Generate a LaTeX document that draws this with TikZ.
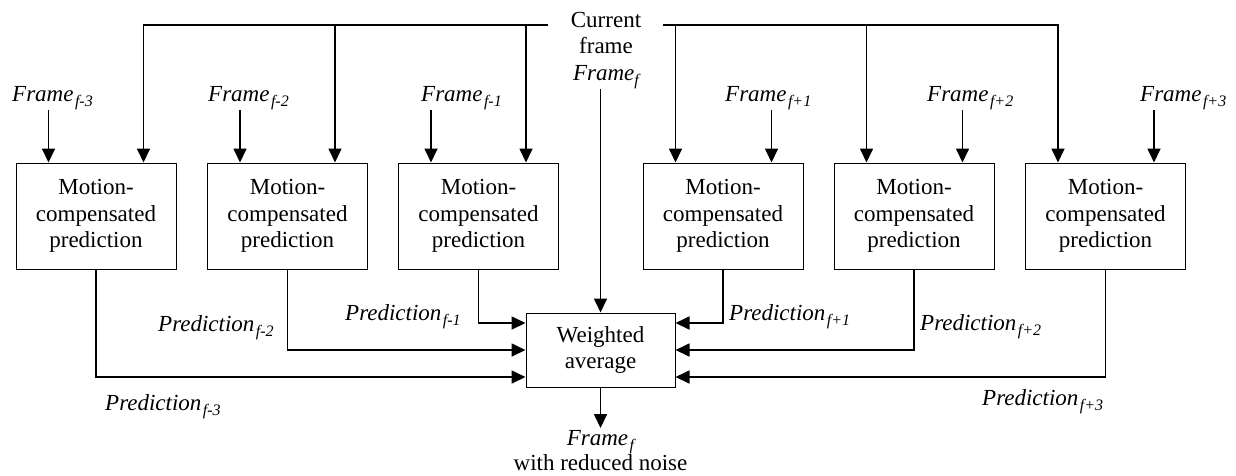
\documentclass[tikz,border=0pt]{standalone}
\usepackage{fontspec}
\setmainfont{Liberation Serif}
\usetikzlibrary{arrows.meta}
\newcommand{\sbs}[1]{\raisebox{-5pt}{\fontsize{16}{16}\selectfont\itshape #1}}
\begin{document}
\begin{tikzpicture}[x=1pt,y=-1pt,
  arr/.style={line width=1.7pt,-{Triangle[length=14pt,width=13pt]}},
  txt/.style={font=\fontsize{23}{26.5}\selectfont},
  mcp/.style={txt,draw,line width=1pt,minimum width=160pt,minimum height=106pt,align=center,inner sep=0pt},
  lab/.style={font=\fontsize{23}{26.5}\selectfont\itshape,inner sep=0pt,anchor=base west}]
\useasboundingbox (0,0) rectangle (1236,475);
% boxes
\node[mcp] (b1) at (96,216) {Motion-\\compensated\\prediction};
\node[mcp] (b2) at (287.5,216) {Motion-\\compensated\\prediction};
\node[mcp] (b3) at (478.5,216) {Motion-\\compensated\\prediction};
\node[mcp] (b4) at (723,216) {Motion-\\compensated\\prediction};
\node[mcp] (b5) at (914,216) {Motion-\\compensated\\prediction};
\node[mcp] (b6) at (1105.5,216) {Motion-\\compensated\\prediction};
\node[txt,draw,line width=1pt,minimum width=149pt,minimum height=74pt,align=center,inner sep=0pt] (wa) at (600.5,350) {Weighted\\average};
% current frame
\node[txt,align=center,inner sep=0pt,anchor=north] (cur) at (606,12) {Current\\frame\\\textit{Frame}\sbs{f}};
\node[font=\fontsize{23}{24}\selectfont,align=center,inner sep=0pt,anchor=north] (out) at (600.5,430) {\textit{Frame}\hspace{1.5pt}\sbs{f}\\with reduced noise};
% frame labels
\node[lab] (f1) at (12,101) {Frame\hspace{1.5pt}\sbs{f-3}};
\node[lab] (f2) at (208,101) {Frame\hspace{1.5pt}\sbs{f-2}};
\node[lab] (f3) at (421,101) {Frame\hspace{1.5pt}\sbs{f-1}};
\node[lab] (f4) at (725,101) {Frame\hspace{1.5pt}\sbs{f+1}};
\node[lab] (f5) at (927,101) {Frame\hspace{1.5pt}\sbs{f+2}};
\node[lab] (f6) at (1140,101) {Frame\hspace{1.5pt}\sbs{f+3}};
% prediction labels
\node[lab] (p1) at (105,410) {Prediction\hspace{1.5pt}\sbs{f-3}};
\node[lab] (p2) at (158,331) {Prediction\hspace{1.5pt}\sbs{f-2}};
\node[lab] (p3) at (345,320) {Prediction\hspace{1.5pt}\sbs{f-1}};
\node[lab] (p4) at (729,320) {Prediction\hspace{1.5pt}\sbs{f+1}};
\node[lab] (p5) at (920,330) {Prediction\hspace{1.5pt}\sbs{f+2}};
\node[lab] (p6) at (982,405) {Prediction\hspace{1.5pt}\sbs{f+3}};
% coordinates
\coordinate (tl) at (548,25);
\coordinate (tr) at (663,25);
\coordinate (c1) at ([xshift=47.5pt]b1.north);
\coordinate (c2) at ([xshift=47.5pt]b2.north);
\coordinate (c3) at ([xshift=47.5pt]b3.north);
\coordinate (c4) at ([xshift=-47.5pt]b4.north);
\coordinate (c5) at ([xshift=-47.5pt]b5.north);
\coordinate (c6) at ([xshift=-47.5pt]b6.north);
\coordinate (i1) at ([xshift=-47.5pt]b1.north);
\coordinate (i2) at ([xshift=-47.5pt]b2.north);
\coordinate (i3) at ([xshift=-47.5pt]b3.north);
\coordinate (i4) at ([xshift=48.5pt]b4.north);
\coordinate (i5) at ([xshift=48.5pt]b5.north);
\coordinate (i6) at ([xshift=48.5pt]b6.north);
% current frame distribution
\draw[arr] (tl) -| (c1);
\draw[arr] (tl) -| (c2);
\draw[arr] (tl) -| (c3);
\draw[arr] (tr) -| (c4);
\draw[arr] (tr) -| (c5);
\draw[arr] (tr) -| (c6);
% frame inputs
\draw[arr] ([yshift=-9pt]f1.base -| i1) -- (i1);
\draw[arr] ([yshift=-9pt]f2.base -| i2) -- (i2);
\draw[arr] ([yshift=-9pt]f3.base -| i3) -- (i3);
\draw[arr] ([yshift=-9pt]f4.base -| i4) -- (i4);
\draw[arr] ([yshift=-9pt]f5.base -| i5) -- (i5);
\draw[arr] ([yshift=-9pt]f6.base -| i6) -- (i6);
% predictions to weighted average
\draw[arr] (b3.south) |- ([yshift=27pt]wa.west);
\draw[arr] (b2.south) |- (wa.west);
\draw[arr] (b1.south) |- ([yshift=-27pt]wa.west);
\draw[arr] (b4.south) |- ([yshift=27pt]wa.east);
\draw[arr] (b5.south) |- (wa.east);
\draw[arr] (b6.south) |- ([yshift=-27pt]wa.east);
% current frame down, output
\draw[arr] (cur.south -| wa.north) -- (wa.north);
\draw[arr] (wa.south) -- ([yshift=2pt]out.north -| wa.south);
\end{tikzpicture}
\end{document}
